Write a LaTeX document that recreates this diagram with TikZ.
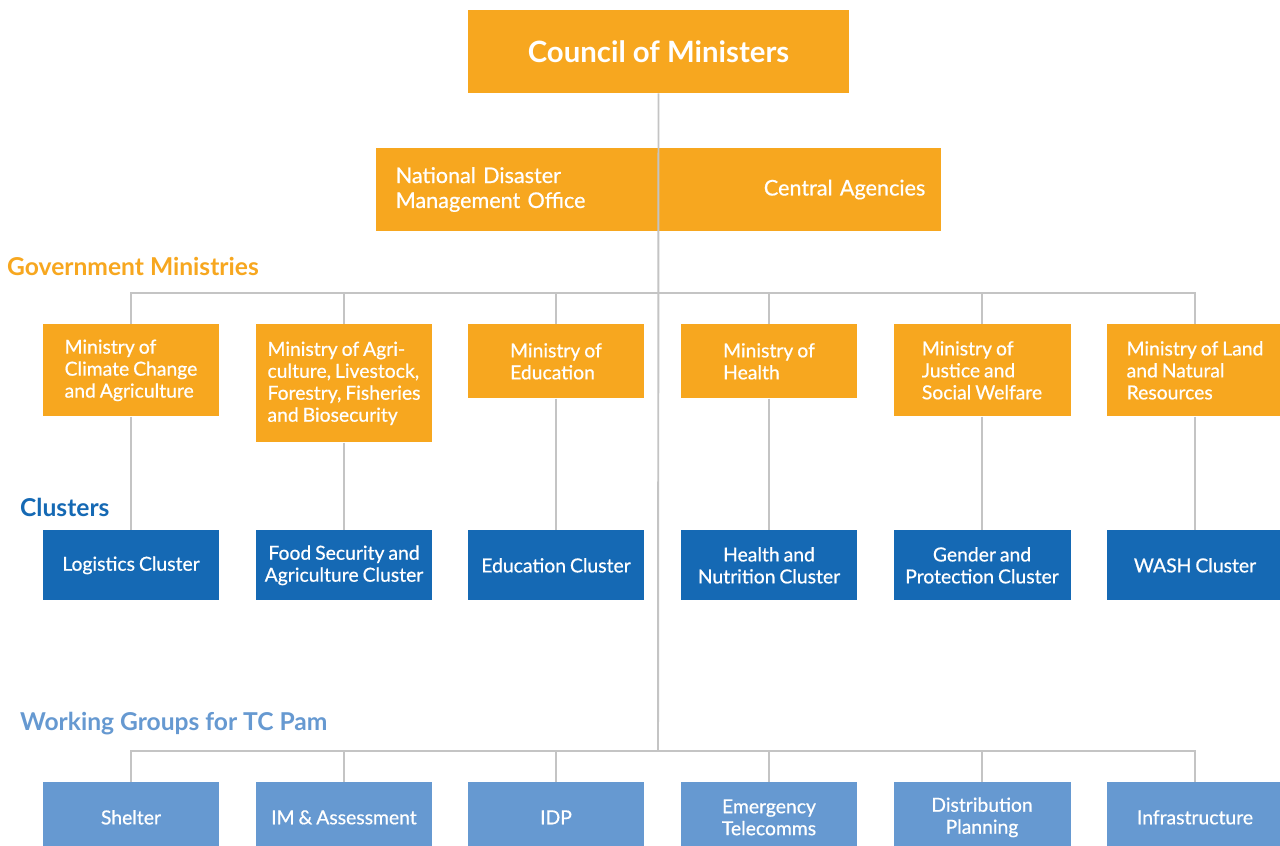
\documentclass[tikz,border=0pt]{standalone}
\usepackage{fontspec}
\setmainfont{Lato}
\newfontfamily\boxfont{Lato}[FakeBold=0.6, WordSpace=0.8]
\usepackage{tikz}

\definecolor{govorange}{HTML}{F7A71F}
\definecolor{clusterblue}{HTML}{1569B4}
\definecolor{groupblue}{HTML}{6699D1}
\definecolor{linegrey}{HTML}{C4C4C4}

\begin{document}
\begin{tikzpicture}[
		x=0.02cm, y=-0.02cm,
		every node/.style={text=white, font=\boxfont\fontsize{11}{12.5}\selectfont},
		link/.style={draw=linegrey, line width=1.1pt},
		box/.style={anchor=north, minimum width=3.54cm, inner xsep=0pt},
		ministry/.style={box, fill=govorange, align=left},
		cluster/.style={box, fill=clusterblue, align=center, minimum height=1.4cm},
		wgroup/.style={box, fill=groupblue, align=center, minimum height=1.4cm},
		heading/.style={anchor=west, font=\fontsize{14}{16}\selectfont\bfseries}
		]

	\clip (0,0) rectangle (1280,845);
	\fill[white] (0,0) rectangle (1280,845);

	% Top
	\node[fill=govorange, minimum width=7.62cm, minimum height=1.66cm,
		font=\fontsize{16.7}{19}\selectfont\bfseries] (council) at (658.5,51.5) {Council of Ministers};
	\node[fill=govorange, minimum width=5.64cm, minimum height=1.66cm, anchor=east, align=left,
		text width=5.64cm-40*0.02cm, inner xsep=20*0.02cm,
		font=\boxfont\fontsize{12.3}{14.2}\selectfont] (ndmo) at (658,189.5) {National Disaster\\Management Office};
	\node[fill=govorange, minimum width=5.66cm, minimum height=1.66cm, anchor=west, align=right,
		text width=5.66cm-32*0.02cm, inner xsep=16*0.02cm,
		font=\boxfont\fontsize{12.3}{14.2}\selectfont] (central) at (658,189.5) {Central Agencies};

	% Headings
	\node[heading, text=govorange] (hgov) at (1,266) {Government Ministries};
	\node[heading, text=clusterblue] (hclu) at (14,507) {Clusters};
	\node[heading, text=groupblue] (hwg) at (14,724) {Working Groups for TC Pam};

	% Bus points on the trunk
	\coordinate (busM) at (658,293);
	\coordinate (busW) at (658,751);

	% Ministries and clusters
	\foreach \i/\x/\h/\mtext/\ctext in {
		1/131/92/{Ministry of\\Climate Change\\and Agriculture}/{Logistics Cluster},
		2/344/118/{Ministry of Agri-\\culture, Livestock,\\Forestry, Fisheries\\and Biosecurity}/{Food Security and\\Agriculture Cluster},
		3/556/74/{Ministry of\\Education}/{Education Cluster},
		4/769/74/{Ministry of\\Health}/{Health and\\Nutrition Cluster},
		5/982/92/{Ministry of\\Justice and\\Social Welfare}/{Gender and\\Protection Cluster},
		6/1195/92/{Ministry of Land\\and Natural\\Resources}/{WASH Cluster}}{
		\node[ministry, minimum height=\h*0.02cm] (m\i) at (\x,324) {\mtext};
		\node[cluster] (c\i) at (\x,530) {\ctext};
		\draw[link] (m\i.north) |- (busM);
		\draw[link] (m\i.south) -- (c\i.north);
	}

	% Working groups
	\foreach \i/\x/\wtext in {1/131/Shelter, 2/344/{IM \& Assessment}, 3/556/IDP,
		4/769/{Emergency\\Telecomms}, 5/982/{Distribution\\Planning}, 6/1195/Infrastructure}{
		\node[wgroup] (w\i) at (\x,782) {\wtext};
		\draw[link] (w\i.north) |- (busW);
	}

	% Trunk
	\draw[link] (council.south) -- (busW);

\end{tikzpicture}
\end{document}
